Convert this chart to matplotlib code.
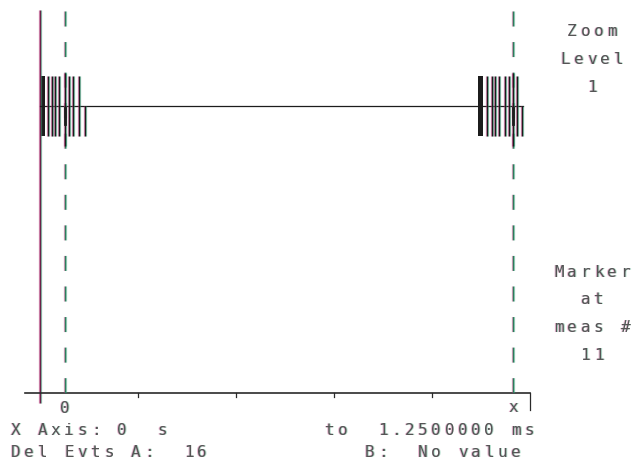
import matplotlib
matplotlib.use("Agg")
import matplotlib.pyplot as plt
from matplotlib.transforms import offset_copy

plt.rcParams["lines.scale_dashes"] = False

# Config
W, H = 633, 466
US_PER_PX = 1250 / 490          # 0..1.25 ms over the 490 px trace width
X0_PX = 40                      # screen column of t = 0

MAGENTA = "#c2367e"
GREEN = "#2fa77a"
INK = "#1c1c1c"
TEXT = "#555555"

# Screen rows of the waveform
TOP, MID, BOT = 76, 106, 136
AXIS_Y = 393

# Data (time in microseconds)
axis_ticks = [0, 250, 500, 750, 1000, 1250]
markers = {"o": 64, "x": 1207}

start_block = (0, 12.8)
start_edges = [20.4, 30.6, 38.3, 48.5, 73.0, 84.2, 99.5]
start_half = 114.8
end_block = (1117, 1130)
end_edges = [1140, 1153, 1161, 1171, 1186, 1196, 1217]
end_half = 1230
trace_end = 1232

right_top = ["Zoom", "Level", "1"]
right_top_rows = [36, 64, 92]
right_bot = ["Marker", "at", "meas #", "11"]
right_bot_rows = [277, 304, 332, 360]

footer = [
    ("X Axis: 0  s", 9, 435),
    ("to  1.2500000 ms", 323, 435),
    ("Del Evts A:  16", 9, 457),
    ("B:  No value", 363, 457),
]

PITCH = 13.3

fig = plt.figure(figsize=(6.33, 4.66), dpi=100)
fig.patch.set_facecolor("white")
ax = fig.add_axes([0, 0, 1, 1])
ax.set_xlim(-X0_PX * US_PER_PX, (W - X0_PX) * US_PER_PX)
ax.set_ylim(H, 0)
ax.axis("off")

scr = fig.add_axes([0, 0, 1, 1])
scr.set_xlim(0, W)
scr.set_ylim(H, 0)
scr.axis("off")


def ghost(a, x, y, color, lw, shift=0.9, alpha=0.55, **kw):
    # printer colour fringing: magenta left, green right
    for dx, c in ((-shift, MAGENTA), (shift, GREEN)):
        tr = offset_copy(a.transData, fig=fig, x=dx, y=0, units="dots")
        a.plot(x, y, color=c, lw=lw * 0.9, alpha=alpha, transform=tr,
               solid_capstyle="butt", **kw)
    a.plot(x, y, color=color, lw=lw, solid_capstyle="butt", **kw)


def grid_text(s, x0, y):
    # one glyph per character cell, with the same print fringing
    for i, ch in enumerate(s):
        if ch == " ":
            continue
        x = x0 + i * PITCH + PITCH / 2
        for dx, c in ((-0.8, MAGENTA), (0.8, GREEN)):
            tr = offset_copy(scr.transData, fig=fig, x=dx, y=0, units="dots")
            scr.text(x, y, ch, transform=tr, color=c, alpha=0.35,
                     fontsize=11.5, family="DejaVu Sans Mono",
                     ha="center", va="baseline")
        scr.text(x, y, ch, color=TEXT, fontsize=11.5,
                 family="DejaVu Sans Mono", ha="center", va="baseline")


# left boundary at t = 0
ghost(ax, [0, 0], [10, 403], "#6a2348", 1.0, shift=0.8)

# x axis with ticks
ax.plot([-38, 1250], [AXIS_Y, AXIS_Y], color="#2a2a2a", lw=1.2)
for t in axis_ticks[1:-1]:
    ax.plot([t, t], [AXIS_Y, AXIS_Y + 4], color="#2a2a2a", lw=0.9)
ax.plot([1250, 1250], [AXIS_Y, 410], color="#2a2a2a", lw=0.9)

# marker lines (dashed)
for t in markers.values():
    ghost(ax, [t, t], [11, AXIS_Y], "#2f7a5c", 1.0, shift=0.8,
          alpha=0.45, dashes=(10.8, 11.2))

# waveform mid line
ax.plot([0, trace_end], [MID, MID], color=INK, lw=0.9)

# transition bursts
for blk in (start_block, end_block):
    ax.fill_between(list(blk), TOP, BOT, color=INK, lw=0)
for t in start_edges + end_edges:
    ghost(ax, [t, t], [TOP, BOT], INK, 1.0)
for t in (start_half, end_half):
    ghost(ax, [t, t], [MID, BOT], INK, 1.0)
for t in markers.values():
    ghost(ax, [t, t], [TOP - 3, BOT + 10], INK, 1.0)
    ax.plot([t - 1, t - 1], [MID + 2, MID + 18], color=INK, lw=2.0)

# marker labels under the axis
for label, t in markers.items():
    px = X0_PX + t / US_PER_PX
    ch = "0" if label == "o" else "x"
    grid_text(ch, px - PITCH / 2, 413 if ch == "0" else 412)

# right-hand panel
for s, y in zip(right_top + right_bot, right_top_rows + right_bot_rows):
    grid_text(s, 592 - len(s) * PITCH / 2, y)

# footer
for s, x0, y in footer:
    grid_text(s, x0, y)

fig.savefig("out.png", dpi=100, facecolor="white")
